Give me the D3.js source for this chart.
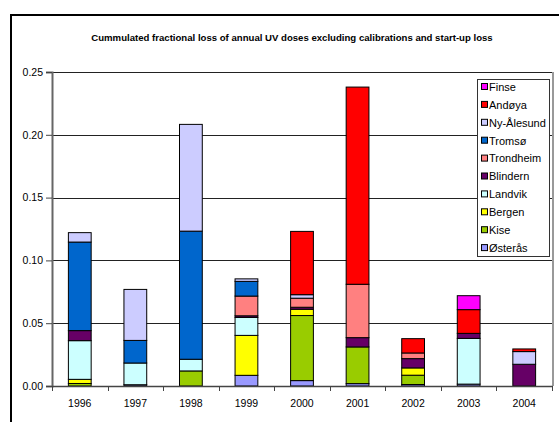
<!DOCTYPE html>
<html>
<head>
<meta charset="utf-8">
<script src="https://cdn.jsdelivr.net/npm/d3@7/dist/d3.min.js"></script>
<style>
  html, body { margin: 0; padding: 0; background: #fff; }
  svg { display: block; font-family: "Liberation Sans", Arial, sans-serif; }
</style>
</head>
<body>
<svg id="chart" width="559" height="422"></svg>
<script>
// Years on the category axis
const years = ["1996", "1997", "1998", "1999", "2000", "2001", "2002", "2003", "2004"];

// Stations, in stacking order from the bottom of each bar upwards
const stations = ["Østerås", "Kise", "Bergen", "Landvik", "Blindern", "Trondheim", "Tromsø", "Ny-Ålesund", "Andøya", "Finse"];

// Fractional loss per station, one value per year
const osteras   = [0,      0.001,  0,      0.0085, 0.0043, 0.0019, 0.0012, 0.0015, 0];
const kise      = [0.002,  0,      0.012,  0,      0.0518, 0.0292, 0.0074, 0,      0];
const bergen    = [0.0033, 0,      0,      0.0318, 0.005,  0,      0.0058, 0,      0];
const landvik   = [0.0308, 0.0173, 0.0093, 0.0143, 0,      0,      0,      0.0364, 0];
const blindern  = [0.008,  0,      0,      0.0013, 0.0016, 0.0074, 0.0074, 0.004,  0.0173];
const trondheim = [0,      0,      0,      0.0157, 0.0072, 0.0425, 0.0045, 0,      0];
const tromso    = [0.0705, 0.018,  0.102,  0.0117, 0,      0,      0,      0,      0];
const nyalesund = [0.0075, 0.0406, 0.085,  0.002,  0.0028, 0,      0,      0,      0.0101];
const andoya    = [0,      0,      0,      0,      0.0504, 0.157,  0.0114, 0.0189, 0.0021];
const finse     = [0,      0,      0,      0,      0,      0,      0,      0.0111, 0];

const seriesValues = [osteras, kise, bergen, landvik, blindern, trondheim, tromso, nyalesund, andoya, finse];

const colors = ["#9999FF", "#99CC00", "#FFFF00", "#CCFFFF", "#660066", "#FF8080", "#0066CC", "#CCCCFF", "#FF0000", "#FF00FF"];

// Y-axis tick values
const yTicks = [0, 0.05, 0.10, 0.15, 0.20, 0.25];

const titleText = "Cummulated fractional loss of annual UV doses excluding calibrations and start-up loss";

// Build one row per year for d3.stack
const rows = years.map((y, i) => {
  const r = { year: y };
  stations.forEach((s, k) => { r[s] = seriesValues[k][i]; });
  return r;
});

const svg = d3.select("#chart");

const plot = { left: 52, right: 552, top: 72, bottom: 386 };

const x = d3.scaleBand().domain(years).range([plot.left, plot.right]).padding(0);
const y = d3.scaleLinear().domain([0, 0.25]).range([plot.bottom, plot.top]);
const color = d3.scaleOrdinal().domain(stations).range(colors);

// Outer chart frame
svg.append("rect")
  .attr("x", 11).attr("y", 15).attr("width", 620).attr("height", 500)
  .attr("fill", "none").attr("stroke", "#000").attr("stroke-width", 2);

// Title
svg.append("text")
  .attr("x", 292).attr("y", 41)
  .attr("text-anchor", "middle")
  .attr("font-size", "9.6px").attr("font-weight", "bold")
  .text(titleText);

// Horizontal gridlines
svg.append("g")
  .selectAll("line")
  .data(yTicks.filter(t => t > 0))
  .join("line")
  .attr("x1", plot.left).attr("x2", plot.right)
  .attr("y1", d => Math.round(y(d)) + 0.5).attr("y2", d => Math.round(y(d)) + 0.5)
  .attr("stroke", "#222").attr("stroke-width", 1);

// Plot area right border
svg.append("line")
  .attr("x1", plot.right + 1).attr("x2", plot.right + 1)
  .attr("y1", plot.top).attr("y2", plot.bottom)
  .attr("stroke", "#999").attr("stroke-width", 2);

// Stacked bars
const stack = d3.stack().keys(stations);
const stacked = stack(rows);
const barW = x.bandwidth() * 0.41;

svg.append("g")
  .selectAll("g")
  .data(stacked)
  .join("g")
  .attr("fill", d => color(d.key))
  .selectAll("rect")
  .data(d => d.filter(s => s[1] - s[0] > 0))
  .join("rect")
  .attr("x", d => x(d.data.year) + (x.bandwidth() - barW) / 2)
  .attr("y", d => y(d[1]))
  .attr("width", barW)
  .attr("height", d => y(d[0]) - y(d[1]))
  .attr("stroke", "#000").attr("stroke-width", 1);

// Y axis
const yAxis = d3.axisLeft(y).tickValues(yTicks).tickFormat(d3.format(".2f")).tickSize(6).tickPadding(3);
const gy = svg.append("g").attr("transform", `translate(${plot.left},0)`).call(yAxis);
gy.select(".domain").attr("stroke", "#666").attr("stroke-width", 2);
gy.selectAll(".tick line").attr("stroke", "#444");
gy.selectAll(".tick text").attr("font-size", "10.5px").attr("fill", "#000")
  .attr("font-family", "'Liberation Sans', Arial, sans-serif");

// X axis baseline
const xAxis = d3.axisBottom(x).tickSize(0).tickPadding(14);
const gx = svg.append("g").attr("transform", `translate(0,${plot.bottom})`).call(xAxis);
gx.select(".domain").attr("stroke", "#444").attr("stroke-width", 1.5);
gx.selectAll(".tick text").attr("font-size", "10.5px").attr("fill", "#000")
  .attr("font-family", "'Liberation Sans', Arial, sans-serif");

// Tick marks between categories
const boundaries = years.map(d => x(d)).concat([x(years[years.length - 1]) + x.bandwidth()]);
svg.append("g")
  .selectAll("line")
  .data(boundaries)
  .join("line")
  .attr("x1", d => Math.round(d) + 0.5).attr("x2", d => Math.round(d) + 0.5)
  .attr("y1", plot.bottom).attr("y2", plot.bottom + 5)
  .attr("stroke", "#444").attr("stroke-width", 1);

// Legend
const legendItems = stations.slice().reverse();
const legend = svg.append("g");
legend.append("rect")
  .attr("x", 477.5).attr("y", 79.5).attr("width", 72).attr("height", 177)
  .attr("fill", "#fff").attr("stroke", "#333").attr("stroke-width", 1);

const li = legend.selectAll("g.item")
  .data(legendItems)
  .join("g")
  .attr("class", "item")
  .attr("transform", (d, i) => `translate(481,${87 + i * 17.9})`);

li.append("rect")
  .attr("x", 0.5).attr("y", -3.5).attr("width", 6).attr("height", 6)
  .attr("fill", d => color(d)).attr("stroke", "#000").attr("stroke-width", 1);

li.append("text")
  .attr("x", 8).attr("y", 0)
  .attr("dy", "0.35em")
  .attr("font-size", "11px")
  .text(d => d);
</script>
</body>
</html>
